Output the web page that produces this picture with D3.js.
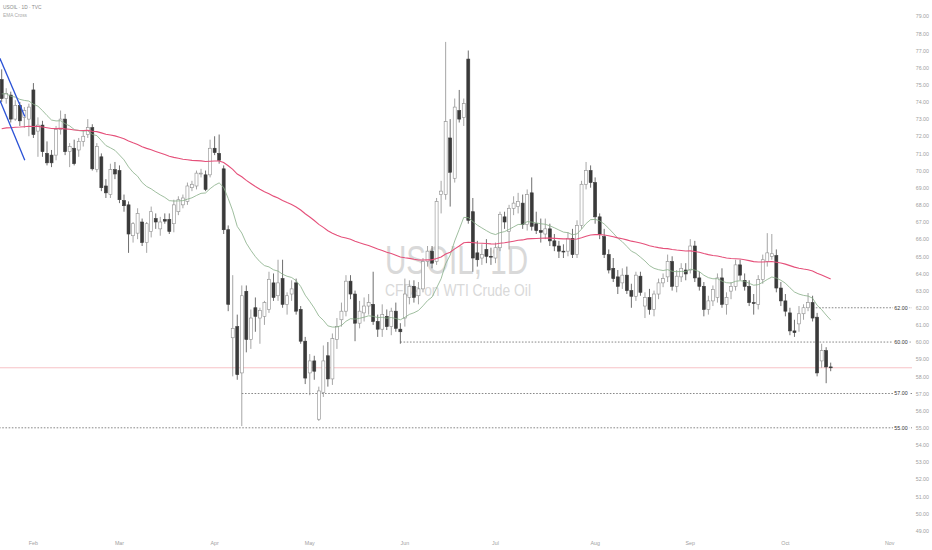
<!DOCTYPE html>
<html>
<head>
<meta charset="utf-8">
<style>
  html, body { margin: 0; padding: 0; background: #fff; }
  svg { display: block; font-family: "Liberation Sans", Arial, sans-serif; }
</style>
</head>
<body>
<svg id="chart" width="932" height="550"></svg>
<script src="https://cdn.jsdelivr.net/npm/d3@7"></script>
<script>
// daily bars Jan 23 .. Oct 15 (US holidays skipped): [open, high, low, close]
const candles = [
  // Jan
  [75.3, 75.9, 74.0, 74.2], [74.2, 74.8, 73.9, 74.5], [74.4, 74.6, 72.8, 73.0], [73.0, 74.1, 72.9, 73.8],
  [73.8, 74.0, 72.6, 72.9], [73.1, 73.7, 72.5, 73.5], [73.0, 73.9, 72.0, 73.7],
  // Feb
  [74.7, 75.1, 71.9, 72.1], [72.3, 73.1, 70.8, 72.65], [72.65, 72.9, 70.8, 71.1], [71.0, 71.7, 70.3, 70.45],
  [70.9, 71.2, 70.2, 70.45], [70.9, 72.6, 70.6, 72.4], [72.4, 73.5, 72.1, 73.0], [73.0, 73.3, 70.9, 71.1],
  [71.1, 71.6, 70.2, 71.4], [71.3, 71.8, 70.3, 70.4], [71.2, 71.9, 70.8, 71.7], [71.7, 72.3, 71.4, 72.0],
  [72.1, 73.0, 71.9, 72.5], [72.5, 72.7, 70.0, 70.1], [70.05, 71.6, 69.9, 71.4], [70.8, 71.0, 68.8, 69.0],
  [69.1, 69.5, 68.4, 68.7], [68.6, 70.4, 68.4, 70.05], [70.05, 70.5, 69.5, 69.8],
  // Mar
  [70.0, 70.3, 68.1, 68.3], [68.25, 68.6, 67.6, 67.95], [68.0, 68.2, 65.2, 66.3], [66.2, 67.0, 65.8, 66.9],
  [66.35, 67.8, 66.0, 67.5], [67.0, 67.2, 65.6, 65.8], [65.8, 67.0, 65.2, 66.9], [66.45, 67.9, 66.1, 67.6],
  [67.2, 67.5, 66.6, 67.0], [66.6, 67.3, 66.2, 67.0], [67.15, 67.5, 66.9, 67.05], [67.15, 67.5, 66.3, 66.45],
  [66.9, 68.3, 66.4, 68.0], [67.6, 68.5, 67.4, 68.3], [68.0, 68.6, 67.8, 68.4], [68.2, 69.3, 68.0, 69.1],
  [69.0, 69.4, 68.8, 69.2], [69.1, 70.0, 68.9, 69.85], [69.8, 70.1, 69.6, 69.85], [69.75, 70.0, 68.8, 68.9],
  [69.75, 71.8, 69.6, 71.3],
  // Apr
  [71.3, 72.0, 70.9, 71.05], [71.0, 72.1, 70.4, 70.6], [70.1, 70.3, 66.3, 66.55], [66.55, 66.8, 61.8, 62.2],
  [60.25, 63.9, 58.0, 60.8], [60.9, 61.6, 57.8, 58.1], [58.2, 63.3, 55.1, 62.7], [62.96, 63.3, 59.4, 60.15],
  [60.15, 61.9, 59.6, 61.4], [62.0, 62.6, 60.6, 61.5], [61.4, 62.0, 59.9, 61.85], [61.5, 62.4, 61.0, 62.3],
  [61.9, 64.1, 61.7, 63.66], [63.45, 64.0, 62.4, 62.6], [62.7, 64.8, 62.4, 63.45], [63.7, 64.8, 62.0, 62.2],
  [62.2, 62.9, 61.6, 62.7], [62.8, 63.6, 62.4, 63.1], [63.45, 63.7, 61.6, 61.8], [61.9, 62.1, 59.9, 60.05],
  [60.05, 60.3, 57.55, 57.9],
  // May
  [58.2, 59.3, 56.9, 58.9], [58.9, 59.2, 57.8, 58.3], [55.5, 57.4, 55.4, 57.15], [57.05, 59.8, 56.8, 58.9],
  [59.2, 60.0, 57.4, 57.85], [57.85, 60.5, 57.5, 60.2], [60.15, 61.4, 59.6, 60.9], [61.3, 62.3, 60.9, 61.8],
  [61.8, 63.9, 61.5, 63.55], [63.55, 63.9, 62.5, 62.8], [62.8, 63.0, 60.05, 61.1], [61.1, 62.4, 60.8, 61.8],
  [61.7, 62.6, 61.2, 62.1], [62.1, 62.8, 61.6, 62.3], [62.2, 64.1, 61.0, 61.2], [61.2, 61.6, 60.3, 60.75],
  [60.75, 62.2, 60.3, 61.6], [61.5, 61.9, 60.7, 60.9], [60.9, 62.0, 60.4, 61.8], [61.8, 62.3, 60.6, 60.8],
  [60.75, 61.1, 59.9, 60.6],
  // Jun
  [61.4, 63.7, 60.9, 62.8], [62.6, 63.6, 62.2, 63.25], [63.25, 63.6, 62.3, 62.6], [62.7, 63.5, 62.2, 63.1],
  [63.1, 64.9, 62.9, 64.7], [64.7, 65.6, 64.4, 65.3], [65.3, 65.6, 64.3, 64.6], [64.7, 68.4, 64.5, 68.2],
  [68.6, 69.4, 67.5, 68.8], [68.6, 77.5, 68.3, 72.85], [71.9, 73.0, 67.9, 69.9], [69.55, 74.2, 69.3, 73.7],
  [73.5, 74.7, 72.8, 73.0], [73.1, 74.2, 72.6, 73.9], [76.5, 77.0, 66.9, 67.1], [67.6, 68.4, 64.1, 64.9],
  [65.2, 65.9, 64.4, 64.8], [64.9, 65.7, 64.5, 65.1], [65.4, 66.0, 64.6, 65.0], [65.0, 65.5, 64.5, 64.95],
  // Jul
  [64.9, 65.8, 64.6, 65.5], [65.5, 67.6, 65.3, 67.45], [67.3, 67.6, 66.6, 67.0], [66.45, 68.0, 65.4, 67.8],
  [67.8, 68.5, 67.4, 68.1], [67.9, 68.7, 67.5, 68.2], [68.1, 68.6, 66.6, 66.85], [66.85, 68.9, 66.5, 68.6],
  [68.7, 69.6, 66.5, 66.75], [66.9, 67.6, 66.3, 66.5], [66.5, 67.2, 65.8, 66.4], [66.3, 67.2, 66.0, 66.6],
  [66.6, 66.9, 65.6, 65.9], [65.9, 66.3, 65.3, 65.6], [65.6, 65.9, 64.9, 65.3], [65.3, 65.7, 64.9, 65.25],
  [65.3, 66.4, 65.0, 66.05], [66.05, 66.6, 64.9, 65.1], [65.1, 67.1, 64.9, 66.8], [66.8, 69.4, 66.6, 69.2],
  [69.2, 70.5, 68.9, 70.0], [70.0, 70.3, 69.0, 69.3],
  // Aug
  [69.3, 69.6, 66.9, 67.3], [67.3, 67.5, 66.0, 66.3], [66.15, 66.6, 64.9, 65.1], [65.1, 65.4, 64.0, 64.2],
  [64.3, 64.9, 63.5, 63.7], [63.8, 64.2, 62.8, 63.25], [63.45, 64.3, 63.1, 63.9], [63.9, 64.4, 62.8, 63.0],
  [63.0, 63.4, 62.0, 62.67], [62.67, 64.1, 62.4, 63.9], [63.84, 64.1, 62.7, 62.9], [62.1, 62.9, 61.4, 62.6],
  [62.6, 63.1, 61.6, 61.9], [61.9, 63.0, 61.5, 62.8], [62.8, 63.7, 62.5, 63.45], [63.45, 64.0, 63.2, 63.7],
  [63.8, 65.1, 63.5, 64.7], [64.7, 65.0, 63.0, 63.25], [63.25, 64.2, 62.9, 63.84], [63.8, 64.6, 63.5, 64.3],
  [64.2, 64.6, 63.6, 63.97],
  // Sep
  [64.2, 66.0, 64.0, 65.6], [65.6, 65.9, 63.5, 63.74], [63.74, 64.1, 63.0, 63.25], [63.25, 63.5, 61.5, 61.9],
  [61.9, 62.7, 61.6, 62.4], [62.4, 63.3, 62.1, 63.06], [62.6, 64.0, 62.3, 63.74], [63.74, 64.3, 62.0, 62.2],
  [62.2, 62.9, 61.6, 62.6], [62.97, 63.5, 62.5, 63.25], [63.25, 64.8, 63.0, 64.5], [64.5, 64.8, 63.6, 63.9],
  [63.6, 64.0, 63.0, 63.25], [63.25, 63.6, 62.1, 62.3], [62.3, 62.8, 61.6, 62.25], [62.2, 63.9, 61.9, 63.65],
  [63.65, 65.1, 63.4, 64.8], [64.7, 66.35, 64.4, 65.2], [65.0, 66.3, 64.8, 65.15], [65.04, 65.4, 62.9, 63.15],
  [63.15, 63.5, 62.1, 62.4],
  // Oct
  [62.4, 62.8, 61.5, 61.8], [61.7, 62.0, 60.4, 60.65], [60.65, 61.3, 60.3, 60.55], [61.06, 62.1, 60.6, 61.65],
  [61.65, 62.2, 61.3, 62.0], [62.0, 62.86, 61.8, 62.3], [62.3, 62.7, 61.2, 61.4], [61.45, 61.7, 58.0, 58.2],
  [58.9, 59.9, 58.5, 59.5], [59.5, 59.7, 57.6, 58.55], [58.55, 58.8, 58.3, 58.5]
];

// month labels and the bar index of the first session of each month
const months = ["Feb", "Mar", "Apr", "May", "Jun", "Jul", "Aug", "Sep", "Oct", "Nov"];
const monthBar = [7, 26, 47, 68, 89, 109, 131, 152, 173, 196];

const priceTicks = d3.range(49, 80);

// dotted support lines and the bar where each starts
const levels = [62, 60, 57, 55];
const levelStart = [179, 88, 53, -2];

// parallel channel drawn at the top left: [bar, price] pairs
const channelLines = [
  [[-0.4, 76.55], [5.1, 73.15]],
  [[-0.4, 74.1], [5.1, 70.6]]
];

const lastPrice = 58.5;

// EMA Cross settings
const fastLen = 20, slowLen = 88;
const fastSeed = 74.5, slowSeed = 72.4;

const plotRight = 912;

const svg = d3.select("#chart");

const x = d3.scaleLinear().domain([0, candles.length - 1]).range([1.7, 830.7]);
const y = d3.scaleLinear().domain([55, 79]).range([427.8, 16.2]);

function ema(values, len, seed) {
  const k = 2 / (len + 1);
  let e = seed;
  return values.map(v => (e = e + k * (v - e)));
}

const closes = candles.map(d => d[3]);
const fast = ema(closes, fastLen, fastSeed);
const slow = ema(closes, slowLen, slowSeed);

// watermark
const wm = svg.append("g").attr("fill", "#d9d9d9");
wm.append("text")
  .attr("x", 385).attr("y", 274)
  .attr("font-size", 40)
  .attr("textLength", 143).attr("lengthAdjust", "spacingAndGlyphs")
  .text("USOIL, 1D");
wm.append("text")
  .attr("x", 385).attr("y", 296)
  .attr("font-size", 17)
  .attr("textLength", 146).attr("lengthAdjust", "spacingAndGlyphs")
  .text("CFDs on WTI Crude Oil");

// clip the plotting area
svg.append("clipPath").attr("id", "plot")
  .append("rect").attr("x", 0).attr("y", 0).attr("width", plotRight).attr("height", 535);

const g = svg.append("g").attr("clip-path", "url(#plot)");

// last price line
g.append("line")
  .attr("x1", 0).attr("x2", plotRight)
  .attr("y1", y(lastPrice)).attr("y2", y(lastPrice))
  .attr("stroke", "#f3a7ae").attr("stroke-width", 0.7);

// dotted levels
g.selectAll("line.level")
  .data(levels)
  .join("line")
  .attr("class", "level")
  .attr("x1", (d, i) => x(levelStart[i]))
  .attr("x2", plotRight)
  .attr("y1", d => y(d)).attr("y2", d => y(d))
  .attr("stroke", "#555")
  .attr("stroke-width", 0.7)
  .attr("stroke-dasharray", "1.6,1.6");

// candles
const bw = 3;
const cg = g.append("g");
cg.selectAll("line.wick")
  .data(candles)
  .join("line")
  .attr("class", "wick")
  .attr("x1", (d, i) => x(i)).attr("x2", (d, i) => x(i))
  .attr("y1", d => y(d[1])).attr("y2", d => y(d[2]))
  .attr("stroke", d => (d[3] >= d[0] ? "#8e8e8e" : "#4a4a4a"))
  .attr("stroke-width", 0.8);

cg.selectAll("rect.body")
  .data(candles)
  .join("rect")
  .attr("class", "body")
  .attr("x", (d, i) => x(i) - bw / 2)
  .attr("y", d => y(Math.max(d[0], d[3])))
  .attr("width", bw)
  .attr("height", d => Math.max(0.8, Math.abs(y(d[0]) - y(d[3]))))
  .attr("fill", d => (d[3] >= d[0] ? "#ffffff" : "#3a3a3a"))
  .attr("stroke", d => (d[3] >= d[0] ? "#8e8e8e" : "#3a3a3a"))
  .attr("stroke-width", 0.6);

// EMA lines
const line = d3.line().x((d, i) => x(i)).y(d => y(d));
g.append("path").datum(fast)
  .attr("d", line).attr("fill", "none")
  .attr("stroke", "#86ad86").attr("stroke-width", 0.8);
g.append("path").datum(slow)
  .attr("d", line).attr("fill", "none")
  .attr("stroke", "#e5507a").attr("stroke-width", 1.1);

// channel
g.selectAll("line.chan")
  .data(channelLines)
  .join("line")
  .attr("class", "chan")
  .attr("x1", d => x(d[0][0])).attr("y1", d => y(d[0][1]))
  .attr("x2", d => x(d[1][0])).attr("y2", d => y(d[1][1]))
  .attr("stroke", "#2a52d6").attr("stroke-width", 1.3);

// level labels
const lab = svg.append("g");
levels.forEach(p => {
  lab.append("rect")
    .attr("x", 893).attr("y", y(p) - 3).attr("width", 16.5).attr("height", 6)
    .attr("fill", "#fff");
  lab.append("text")
    .attr("x", 901).attr("y", y(p))
    .attr("dy", "0.35em")
    .attr("text-anchor", "middle")
    .attr("font-size", 5.3)
    .attr("fill", "#333")
    .text(p.toFixed(2));
});

// right price axis
const yAxis = svg.append("g")
  .attr("transform", `translate(${929},0)`)
  .call(d3.axisRight(y).tickValues(priceTicks).tickFormat(d3.format(".2f")).tickSize(0).tickPadding(0))
  .call(a => a.select(".domain").remove());
yAxis.selectAll("text")
  .attr("text-anchor", "end")
  .attr("font-size", 5.3)
  .attr("font-family", "Liberation Sans, Arial, sans-serif")
  .attr("fill", "#a0a0a0");

// month axis
svg.append("g")
  .selectAll("text")
  .data(months)
  .join("text")
  .attr("x", (d, i) => x(monthBar[i]))
  .attr("y", 545)
  .attr("text-anchor", "middle")
  .attr("font-size", 5.3)
  .attr("fill", "#a0a0a0")
  .text(d => d);

// header
svg.append("text")
  .attr("x", 3).attr("y", 9)
  .attr("font-size", 4.8).attr("fill", "#8a8a8a")
  .text("USOIL · 1D · TVC");
svg.append("text")
  .attr("x", 3).attr("y", 17)
  .attr("font-size", 4.8).attr("fill", "#aaaaaa")
  .text("EMA Cross");
</script>
</body>
</html>
